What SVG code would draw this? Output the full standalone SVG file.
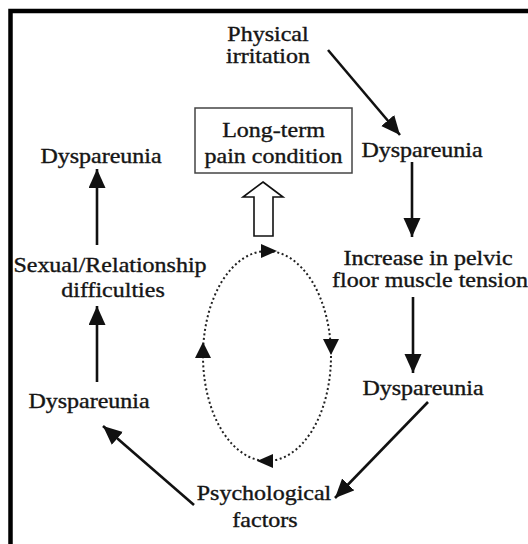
<svg xmlns="http://www.w3.org/2000/svg" width="528" height="544" viewBox="0 0 528 544">
<defs>
<style>
.t{font-family:"Liberation Serif","Times New Roman",serif;font-size:20px;fill:#151515;stroke:#151515;stroke-width:0.35;text-anchor:middle}
.a{stroke:#111;stroke-width:2.6;fill:none;marker-end:url(#ah)}
.tri{fill:#111}
</style>
<marker id="ah" markerUnits="userSpaceOnUse" markerWidth="20" markerHeight="18" refX="19" refY="8.5" orient="auto" viewBox="0 0 20 18">
<path d="M0,0 L19,8.5 L0,17 z" fill="#111"/>
</marker>
</defs>
<rect width="528" height="544" fill="#fff"/>
<rect id="frame" x="10.5" y="11" width="540" height="560" fill="none" stroke="#000" stroke-width="4.5"/>

<g id="physical"><text class="t" transform="translate(268,41) scale(1.2,1)">Physical</text><text class="t" transform="translate(268,63) scale(1.2,1)">irritation</text></g>
<g id="longterm"><rect x="195" y="108" width="157" height="65" fill="none" stroke="#444" stroke-width="1.5"/><text class="t" transform="translate(273.5,137) scale(1.2,1)">Long-term</text><text class="t" transform="translate(273.5,163) scale(1.2,1)">pain condition</text></g>
<g id="dysR1"><text class="t" transform="translate(422,157) scale(1.2,1)">Dyspareunia</text></g>
<g id="pelvic"><text class="t" transform="translate(428,265) scale(1.2,1)">Increase in pelvic</text><text class="t" transform="translate(430,287) scale(1.2,1)">floor muscle tension</text></g>
<g id="dysR2"><text class="t" transform="translate(423,395) scale(1.2,1)">Dyspareunia</text></g>
<g id="psych"><text class="t" transform="translate(264,500) scale(1.2,1)">Psychological</text><text class="t" transform="translate(265,527) scale(1.2,1)">factors</text></g>
<g id="dysL2"><text class="t" transform="translate(89,408) scale(1.2,1)">Dyspareunia</text></g>
<g id="sexual"><text class="t" transform="translate(110,272) scale(1.2,1)">Sexual/Relationship</text><text class="t" transform="translate(113,297) scale(1.2,1)">difficulties</text></g>
<g id="dysL1"><text class="t" transform="translate(101,163) scale(1.2,1)">Dyspareunia</text></g>

<g id="connectors">
<line class="a" x1="328" y1="50" x2="400" y2="135"/>
<line class="a" x1="412" y1="162" x2="412" y2="237"/>
<line class="a" x1="413" y1="297" x2="413" y2="373"/>
<line class="a" x1="428" y1="402" x2="335" y2="498"/>
<line class="a" x1="194" y1="505" x2="103" y2="426"/>
<line class="a" x1="97" y1="382" x2="97" y2="306"/>
<line class="a" x1="97" y1="245" x2="97" y2="169"/>
<polygon points="263,182 283,197 273,197 273,236 254,236 254,197 243,197" fill="#fff" stroke="#111" stroke-width="1.6" stroke-linejoin="miter"/>
<ellipse cx="267" cy="356" rx="64" ry="105" fill="none" stroke="#222" stroke-width="2" stroke-dasharray="2 2.6"/>
<polygon class="tri" points="277,251 261,244 261,258"/>
<polygon class="tri" points="331,355 323,339 339,339"/>
<polygon class="tri" points="257,461 273,454 273,468"/>
<polygon class="tri" points="203,342 195,358 211,358"/>
</g>
</svg>
